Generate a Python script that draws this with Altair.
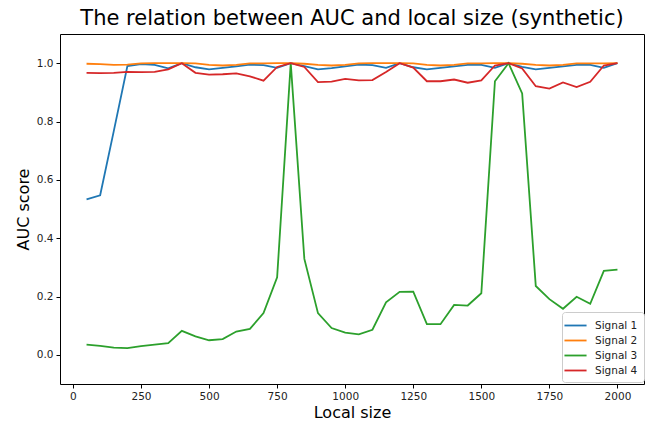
import altair as alt
import pandas as pd

x_vals = list(range(50, 2001, 50))

signal1 = [0.533, 0.547, 0.767, 0.990, 0.997, 0.994, 0.982, 1.0, 0.986, 0.979,
           0.984, 0.989, 0.995, 0.993, 0.984, 1.0, 0.990, 0.979, 0.983, 0.989,
           0.995, 0.993, 0.984, 1.0, 0.986, 0.979, 0.984, 0.989, 0.994, 0.994,
           0.984, 1.0, 0.987, 0.979, 0.984, 0.989, 0.994, 0.994, 0.984, 1.0]
signal2 = [0.998, 0.997, 0.994, 0.995, 0.999, 1.0, 1.0, 1.0, 0.999, 0.994,
           0.992, 0.994, 0.999, 0.999, 1.0, 1.0, 0.998, 0.994, 0.992, 0.994,
           0.999, 1.0, 1.0, 1.0, 0.999, 0.994, 0.992, 0.994, 0.999, 0.999,
           1.0, 1.0, 0.998, 0.994, 0.992, 0.994, 0.999, 0.999, 0.999, 1.0]
signal3 = [0.035, 0.031, 0.025, 0.023, 0.030, 0.035, 0.040, 0.082, 0.063, 0.050,
           0.054, 0.080, 0.089, 0.143, 0.266, 1.0, 0.329, 0.143, 0.092, 0.076,
           0.070, 0.086, 0.180, 0.216, 0.217, 0.105, 0.105, 0.171, 0.169, 0.211,
           0.938, 1.0, 0.896, 0.236, 0.191, 0.158, 0.199, 0.175, 0.288, 0.292]
signal4 = [0.967, 0.966, 0.967, 0.970, 0.969, 0.970, 0.979, 1.0, 0.967, 0.961,
           0.962, 0.965, 0.955, 0.940, 0.987, 1.0, 0.987, 0.935, 0.937, 0.946,
           0.941, 0.942, 0.970, 1.0, 0.985, 0.938, 0.938, 0.944, 0.933, 0.941,
           0.992, 1.0, 0.982, 0.921, 0.913, 0.934, 0.918, 0.936, 0.992, 1.0]

series_names = ["Signal 1", "Signal 2", "Signal 3", "Signal 4"]
colors = ["#1f77b4", "#ff7f0e", "#2ca02c", "#d62728"]
x_ticks = [0, 250, 500, 750, 1000, 1250, 1500, 1750, 2000]
y_ticks = [0.0, 0.2, 0.4, 0.6, 0.8, 1.0]

rows = []
for name, vals in zip(series_names, [signal1, signal2, signal3, signal4]):
    for xv, v in zip(x_vals, vals):
        rows.append({"Local size": xv, "AUC score": v, "Series": name})
df = pd.DataFrame(rows)

FONT = "DejaVu Sans"

axis_common = dict(
    labelFont=FONT, labelFontSize=10.5, labelColor="#222222",
    titleFont=FONT, titleFontSize=16, titleFontWeight="normal", titleColor="black",
    tickColor="black", tickSize=4, tickWidth=1, labelPadding=3,
    grid=False, domain=False,
)

chart = alt.Chart(df).mark_line(strokeWidth=1.8).encode(
    x=alt.X("Local size:Q",
            scale=alt.Scale(domain=[-47.5, 2097.5], nice=False, zero=False),
            axis=alt.Axis(values=x_ticks, title="Local size", format="d",
                          titlePadding=3, **axis_common)),
    y=alt.Y("AUC score:Q",
            scale=alt.Scale(domain=[-0.1, 1.1], nice=False, zero=False),
            axis=alt.Axis(values=y_ticks, title="AUC score", format=".1f",
                          titlePadding=5, **axis_common)),
    color=alt.Color("Series:N",
                    scale=alt.Scale(domain=series_names, range=colors),
                    legend=alt.Legend(
                        title=None, orient="none", legendX=502, legendY=278,
                        symbolType="M-1.7,0L1.7,0", symbolSize=169,
                        symbolStrokeWidth=1.8, labelFont=FONT, labelFontSize=10.5,
                        labelColor="#222222", labelOffset=12, rowPadding=2,
                        padding=6, fillColor="white", strokeColor="#cccccc",
                        cornerRadius=3)),
).properties(
    width=584, height=350,
    title=alt.Title("The relation between AUC and local size (synthetic)",
                    font=FONT, fontSize=21, fontWeight="normal", color="black",
                    anchor="middle", offset=5),
    autosize=alt.AutoSizeParams(type="none"),
    padding={"left": 60, "top": 34, "right": 11, "bottom": 38},
).configure_view(stroke="black", strokeWidth=1)

chart.save("out.html", embed_options={"renderer": "svg", "actions": False})
